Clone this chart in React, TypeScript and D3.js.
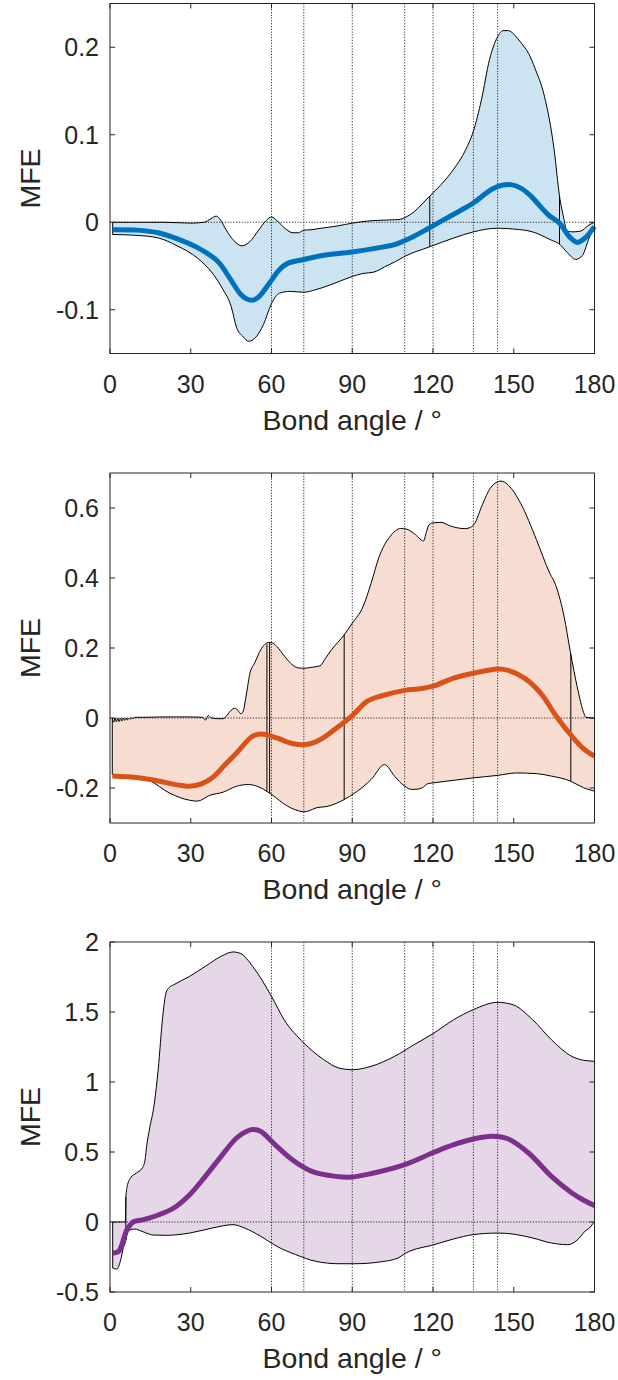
import React from "react";
import * as d3 from "d3";

type Pt = [number, number];

// x axis (bond angle, degrees)
const angleTicks = [0, 30, 60, 90, 120, 150, 180];
// reference angles drawn as dotted verticals
const refAngles = [60, 72, 90, 109.47, 120, 135, 144];

// panel 1 (blue)
const upperBlue: Pt[] = [
  [1, 0], [10, 0], [20, 0], [30, -0.001], [35, 0], [37.5, 0.004], [39.5, 0.007], [41, 0.003],
  [43, -0.008], [46, -0.021], [49, -0.027], [52, -0.022], [55, -0.01], [58, 0.002], [60, 0.006],
  [62, 0.002], [65, -0.007], [68, -0.012], [70, -0.012], [72, -0.009], [75, -0.0085], [78, -0.007],
  [84, -0.0045], [90, -0.001], [98, 0.002], [107, 0.003], [110, 0.006], [113, 0.012], [116, 0.021],
  [118.8, 0.03], [123, 0.043], [128, 0.062], [132, 0.082], [135, 0.104], [138, 0.14], [141, 0.186],
  [144, 0.212], [146, 0.219], [148, 0.219], [150, 0.215], [153, 0.204], [155.5, 0.193], [158, 0.175],
  [161.4, 0.144], [165, 0.083], [167, 0.03], [168.7, 0.003], [169.7, -0.01], [172, -0.011],
  [175, -0.01], [177.5, -0.004], [180, 0],
];
const lowerBlue: Pt[] = [
  [1, -0.014], [10, -0.015], [18, -0.018], [25, -0.027], [32.5, -0.041], [38, -0.058], [42, -0.077],
  [45, -0.096], [47, -0.12], [49.5, -0.131], [51.5, -0.136], [54, -0.132], [57, -0.117], [60, -0.093],
  [63, -0.081], [67, -0.079], [72, -0.08], [76.5, -0.077], [84, -0.069], [90, -0.062], [94, -0.0585],
  [98, -0.057], [102, -0.051], [106, -0.045], [109.5, -0.039], [118.8, -0.028], [127.7, -0.018],
  [135, -0.011], [144, -0.0068], [150, -0.0078], [157, -0.011], [164, -0.0205], [167, -0.025],
  [170, -0.035], [173, -0.0425], [175.5, -0.038], [178, -0.018], [180, -0.005],
];
const meanBlue: Pt[] = [
  [1, -0.0085], [10, -0.009], [18, -0.012], [25, -0.019], [32.5, -0.029], [40, -0.0445], [44, -0.0616],
  [48.6, -0.0825], [51, -0.088], [53, -0.089], [55, -0.086], [57, -0.079], [60.3, -0.065], [63, -0.054],
  [66, -0.047], [72, -0.0425], [79, -0.038], [90, -0.034], [100, -0.029], [105.7, -0.0255],
  [111.6, -0.018], [118.6, -0.0065], [124.8, 0.0042], [130, 0.013], [135, 0.022], [142, 0.038],
  [146, 0.0425], [149, 0.043], [152.6, 0.039], [156, 0.031], [159.6, 0.019], [163, 0.008],
  [167, -0.001], [170.8, -0.017], [173.6, -0.023], [176.5, -0.018], [180, -0.005],
];
const edgesBlue = [118.8, 167];
const ticksBlue = [-0.1, 0, 0.1, 0.2];

// panel 2 (orange)
const upperOrange: Pt[] = [
  [0.85, 0], [1.4, -0.012], [1.9, 0], [2.4, -0.011], [2.9, 0], [3.4, -0.01], [3.9, 0], [4.4, -0.009],
  [4.9, 0], [5.4, -0.007], [5.9, 0], [6.4, -0.006], [6.9, 0], [7.4, -0.004], [7.9, 0.001], [8.5, -0.002],
  [9.2, 0.002], [12, 0.002], [20, 0.003], [30, 0.003], [34.5, 0.002], [35.5, -0.006], [36.5, 0.007],
  [37.5, 0.001], [40, -0.002], [42, -0.002], [43.5, 0.008], [45, 0.022], [46.4, 0.028], [47.5, 0.022],
  [48.6, 0.012], [49.5, 0.02], [50.5, 0.06], [52, 0.128], [53.8, 0.158], [56, 0.195], [59, 0.216],
  [60.5, 0.214], [62, 0.204], [65, 0.175], [67.7, 0.152], [70, 0.143], [72, 0.142], [75, 0.145],
  [78, 0.149], [80, 0.17], [82.3, 0.195], [87, 0.2375], [90, 0.271], [94, 0.318], [97, 0.385],
  [100, 0.461], [102, 0.495], [104, 0.518], [106, 0.535], [108, 0.5415], [110, 0.54], [113, 0.527],
  [116.5, 0.506], [117.5, 0.53], [118.5, 0.552], [120.4, 0.558], [123, 0.559], [126, 0.55],
  [128, 0.545], [132, 0.541], [134, 0.545], [135.5, 0.556], [138, 0.603], [141.6, 0.66],
  [145.3, 0.677], [148, 0.665], [152.6, 0.613], [158.5, 0.508], [163, 0.42], [165.8, 0.375],
  [168.7, 0.29], [171, 0.19], [173.8, 0.081], [176, 0.015], [176.8, 0.002], [180, 0],
];
const lowerOrange: Pt[] = [
  [0.85, -0.1615], [7.6, -0.166], [15, -0.18], [22, -0.214], [29.6, -0.235], [32.5, -0.2375],
  [37, -0.221], [42, -0.212], [47, -0.195], [51.5, -0.19], [56, -0.1995], [60, -0.2185], [66, -0.252],
  [70, -0.265], [72, -0.268], [74, -0.265], [76.5, -0.257], [81, -0.252], [87, -0.233], [91, -0.214],
  [97, -0.176], [102, -0.133], [105.7, -0.166], [109.5, -0.195], [112, -0.204], [114, -0.2035],
  [116, -0.1995], [118, -0.188], [120.4, -0.185], [127.7, -0.178], [135, -0.171], [144, -0.164],
  [151, -0.157], [158.5, -0.159], [164, -0.166], [171, -0.18], [176, -0.1995], [180, -0.209],
];
const meanOrange: Pt[] = [
  [0.85, -0.166], [10.5, -0.171], [18, -0.18], [25, -0.191], [29.6, -0.195], [34, -0.188],
  [38, -0.171], [42.8, -0.133], [47, -0.1], [53, -0.052], [56, -0.046], [58, -0.0475], [62, -0.057],
  [67.7, -0.073], [72.8, -0.076], [78, -0.062], [83.8, -0.031], [90, 0.0067], [95.5, 0.0475],
  [101, 0.0636], [109.5, 0.079], [114.5, 0.083], [120.4, 0.092], [127.7, 0.114], [135, 0.128],
  [144, 0.14], [148, 0.136], [154, 0.114], [160, 0.071], [165.8, 0.005], [171.6, -0.052],
  [176, -0.088], [180, -0.109],
];
const edgesOrange = [58.3, 59.3, 87, 171.2];
const ticksOrange = [-0.2, 0, 0.2, 0.4, 0.6];

// panel 3 (purple)
const upperPurple: Pt[] = [
  [1, 0], [5.7, 0], [5.9, 0.18], [6.4, 0.255], [7.6, 0.314], [9.8, 0.35], [12, 0.386], [13, 0.44],
  [13.6, 0.54], [14.6, 0.656], [16.5, 0.85], [17.9, 1.088], [19.6, 1.469], [20.8, 1.636], [22, 1.675],
  [23.7, 1.695], [29.6, 1.755], [35.4, 1.826], [41.3, 1.898], [45.7, 1.929], [48.6, 1.917],
  [53, 1.826], [60, 1.612], [64.7, 1.445], [72, 1.279], [79.4, 1.16], [85, 1.1], [90, 1.088],
  [97, 1.112], [105.7, 1.183], [113, 1.267], [120.4, 1.35], [127.7, 1.445], [135, 1.517],
  [144, 1.569], [149.7, 1.552], [157, 1.445], [164, 1.302], [171.6, 1.183], [176, 1.155], [180, 1.148],
];
const lowerPurple: Pt[] = [
  [1, -0.329], [2.5, -0.336], [4, -0.269], [5, -0.18], [5.6, -0.15], [6.5, -0.08], [7.4, -0.057],
  [9, -0.05], [12.3, -0.07], [16, -0.093], [20.8, -0.095], [29.6, -0.079], [38, -0.043],
  [45.7, -0.019], [50, -0.043], [56, -0.102], [62, -0.174], [69, -0.233], [76.5, -0.281],
  [85, -0.298], [91, -0.298], [100, -0.286], [107, -0.257], [110, -0.221], [120.4, -0.162],
  [127.7, -0.121], [135, -0.09], [144, -0.079], [149.7, -0.086], [157, -0.114], [164, -0.15],
  [170, -0.162], [173.5, -0.13], [175, -0.1], [176.5, -0.065], [178, -0.045], [179.5, -0.01], [180, 0],
];
const meanPurple: Pt[] = [
  [1, -0.221], [3.2, -0.21], [5.4, -0.1], [6.2, -0.057], [7.6, -0.019], [8.6, 0], [12, 0.015],
  [14.8, 0.03], [17.9, 0.05], [23.7, 0.1], [29.6, 0.195], [35.4, 0.326], [41.3, 0.469], [47, 0.6],
  [51, 0.65], [53, 0.66], [55.9, 0.648], [62, 0.54], [67.7, 0.445], [75, 0.362], [83.8, 0.326],
  [90, 0.321], [98, 0.35], [109.5, 0.41], [120.4, 0.498], [127.7, 0.552], [135, 0.593], [142, 0.612],
  [148, 0.593], [155.5, 0.493], [164, 0.326], [171.6, 0.207], [176, 0.155], [180, 0.117],
];
const edgesPurple = [5.9];
const ticksPurple = [-0.5, 0, 0.5, 1, 1.5, 2];

interface PanelSpec {
  upper: Pt[];
  lower: Pt[];
  mean: Pt[];
  edges: number[];
  yTicks: number[];
  yDomain: [number, number];
  color: string;
  fill: string;
}

const panels: PanelSpec[] = [
  { upper: upperBlue, lower: lowerBlue, mean: meanBlue, edges: edgesBlue, yTicks: ticksBlue,
    yDomain: [-0.15, 0.25], color: "#0072BD", fill: "#cce3f2" },
  { upper: upperOrange, lower: lowerOrange, mean: meanOrange, edges: edgesOrange, yTicks: ticksOrange,
    yDomain: [-0.3, 0.7], color: "#D95319", fill: "#f7ddd1" },
  { upper: upperPurple, lower: lowerPurple, mean: meanPurple, edges: edgesPurple, yTicks: ticksPurple,
    yDomain: [-0.5, 2], color: "#7E2F8E", fill: "#e5d6e8" },
];

const width = 618;
const height = 1380;
const left = 110;
const right = 594.5;
const boxH = 350;
const tops = [3.5, 473, 942];
const axisColor = "#262626";
const font = "'Liberation Sans', Arial, Helvetica, sans-serif";

// linear lookup used to place the patch edges on the curves
const valueAt = (pts: Pt[], a: number) => {
  const i = d3.bisector((d: Pt) => d[0]).left(pts, a);
  if (i <= 0) return pts[0][1];
  if (i >= pts.length) return pts[pts.length - 1][1];
  const [x0, y0] = pts[i - 1];
  const [x1, y1] = pts[i];
  return y0 + ((y1 - y0) * (a - x0)) / (x1 - x0);
};

const Panel: React.FC<{ spec: PanelSpec; top: number }> = ({ spec, top }) => {
  const x = d3.scaleLinear().domain([0, 180]).range([left, right]);
  const y = d3.scaleLinear().domain(spec.yDomain).range([top + boxH, top]);
  const line = d3.line<Pt>().x(d => x(d[0])).y(d => y(d[1])).curve(d3.curveMonotoneX);
  const smooth = d3.line<Pt>().x(d => x(d[0])).y(d => y(d[1])).curve(d3.curveCatmullRom.alpha(0.5));

  const upperPath = line(spec.upper) ?? "";
  const lowerBack = (line(spec.lower.slice().reverse()) ?? "").replace(/^M/, "L");
  const band = `${upperPath}${lowerBack}Z`;
  const bottom = top + boxH;
  const dots = "1.2 1.6";

  return (
    <g>
      <path d={band} fill={spec.fill} stroke="none" />
      {/* dotted reference lines */}
      {refAngles.map(a => (
        <line key={a} x1={x(a)} x2={x(a)} y1={top} y2={bottom}
          stroke="#000" strokeWidth={0.8} strokeDasharray={dots} />
      ))}
      <line x1={left} x2={right} y1={y(0)} y2={y(0)} stroke="#000" strokeWidth={0.8} strokeDasharray={dots} />
      {/* patch edges */}
      {spec.edges.map(a => (
        <line key={a} x1={x(a)} x2={x(a)} y1={y(valueAt(spec.upper, a))} y2={y(valueAt(spec.lower, a))}
          stroke="#000" strokeWidth={1} />
      ))}
      <path d={band} fill="none" stroke="#000" strokeWidth={1} />
      <path d={smooth(spec.mean) ?? ""} fill="none" stroke={spec.color} strokeWidth={5} strokeLinejoin="round" />
      {/* box */}
      <rect x={left} y={top} width={right - left} height={boxH} fill="none" stroke={axisColor} strokeWidth={1} />
      {angleTicks.map(t => (
        <g key={t}>
          <line x1={x(t)} x2={x(t)} y1={bottom} y2={bottom - 5} stroke={axisColor} />
          <line x1={x(t)} x2={x(t)} y1={top} y2={top + 5} stroke={axisColor} />
          <text x={x(t)} y={bottom + 39} textAnchor="middle" fontSize={25} fill={axisColor} fontFamily={font}>
            {t}
          </text>
        </g>
      ))}
      {spec.yTicks.map(t => (
        <g key={t}>
          <line x1={left} x2={left + 5} y1={y(t)} y2={y(t)} stroke={axisColor} />
          <line x1={right} x2={right - 5} y1={y(t)} y2={y(t)} stroke={axisColor} />
          <text x={99} y={y(t)} dy="0.36em" textAnchor="end" fontSize={25} fill={axisColor} fontFamily={font}>
            {t}
          </text>
        </g>
      ))}
      <text x={(left + right) / 2} y={bottom + 76} textAnchor="middle" fontSize={28.5} fill={axisColor} fontFamily={font}>
        Bond angle / °
      </text>
      <text transform={`translate(39.5,${top + boxH / 2}) rotate(-90)`} textAnchor="middle" fontSize={28.5}
        fill={axisColor} fontFamily={font}>
        MFE
      </text>
    </g>
  );
};

export default function App() {
  return (
    <svg width={width} height={height} style={{ position: "absolute", left: 0, top: 0, background: "#fff" }}>
      <rect width={width} height={height} fill="#fff" />
      {panels.map((p, i) => (
        <Panel key={i} spec={p} top={tops[i]} />
      ))}
    </svg>
  );
}
